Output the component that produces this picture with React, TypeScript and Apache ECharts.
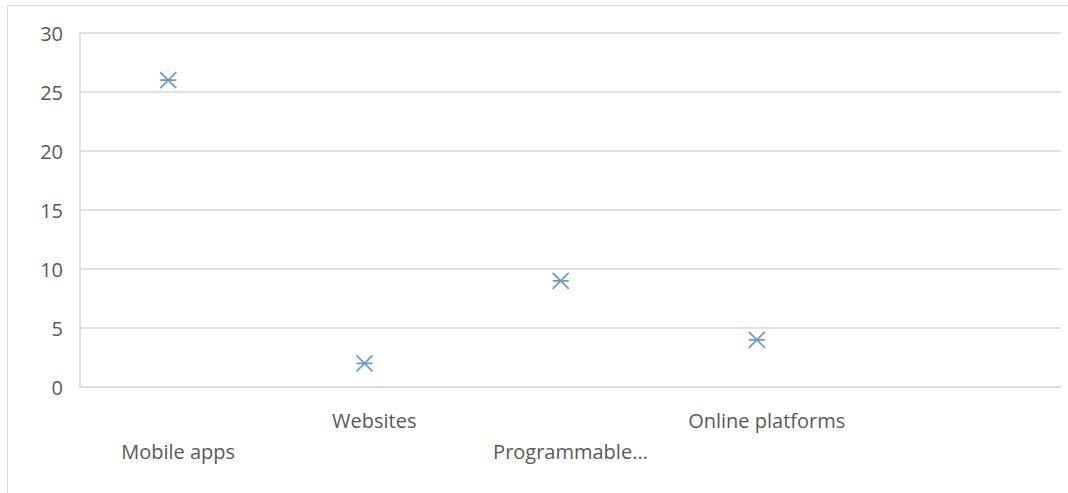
import React, { useEffect, useRef } from "react";
import * as echarts from "echarts";

const categories = ["Mobile apps", "Websites", "Programmable...", "Online platforms", ""];
const positions = [1, 2, 3, 4];
const values = [26, 2, 9, 4];
const yTicks = { min: 0, max: 30, interval: 5 };

export default function App() {
  const ref = useRef<HTMLDivElement>(null);
  useEffect(() => {
    const chart = echarts.init(ref.current!, null, { renderer: "svg" });
    const font = "'Open Sans', sans-serif";
    chart.setOption({
      animation: false,
      graphic: [
        {
          type: "rect",
          shape: { x: 7.5, y: 5.5, width: 1100, height: 600 },
          style: { fill: "none", stroke: "#d9d9d9", lineWidth: 1 },
          silent: true,
        },
      ],
      grid: { left: 80, top: 33, right: 7, bottom: 106 },
      xAxis: [
        {
          type: "category",
          data: categories,
          boundaryGap: true,
          axisLine: { show: true, lineStyle: { color: "#d9d9d9", width: 1.5 } },
          axisTick: { show: false },
          splitLine: { show: false },
          axisLabel: {
            interval: 0,
            margin: 18,
            color: "#595959",
            fontFamily: font,
            fontSize: 20,
            lineHeight: 31,
            formatter: (v: string, i: number) => (i % 2 === 0 ? "\n" + v : v),
          },
        },
        {
          type: "value",
          min: 0.55,
          max: 5.55,
          show: false,
          position: "bottom",
        },
      ],
      yAxis: {
        type: "value",
        min: yTicks.min,
        max: yTicks.max,
        interval: yTicks.interval,
        axisLine: { show: true, lineStyle: { color: "#d9d9d9", width: 1.5 } },
        axisTick: { show: false },
        splitLine: { show: true, lineStyle: { color: "#d9d9d9", width: 1.5 } },
        axisLabel: {
          margin: 17,
          color: "#595959",
          fontFamily: font,
          fontSize: 20,
        },
      },
      series: [
        {
          type: "scatter",
          xAxisIndex: 1,
          data: positions.map((p, i) => [p, values[i]]),
          symbol: "path://M0,0L10,10M10,0L0,10M0,5L10,5",
          symbolSize: 16,
          itemStyle: { color: "none", borderColor: "#4a7ebb", borderWidth: 1.7 },
        },
      ],
    });
    return () => chart.dispose();
  }, []);
  return (
    <div
      ref={ref}
      style={{ position: "absolute", left: 0, top: 0, width: 1068, height: 493 }}
    />
  );
}
